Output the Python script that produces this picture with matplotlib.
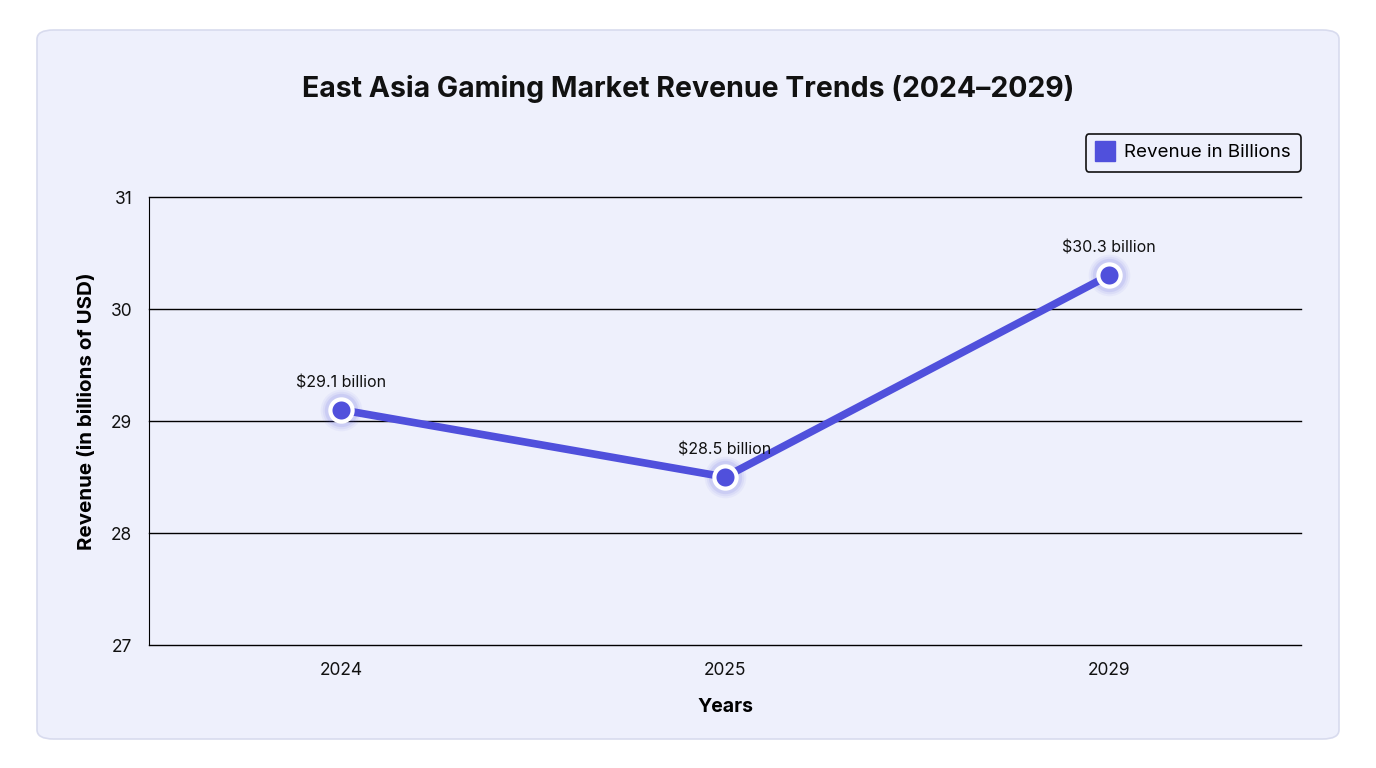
import matplotlib
matplotlib.use("Agg")
import matplotlib.pyplot as plt
from matplotlib.patches import FancyBboxPatch

plt.rcParams['font.family'] = ['Inter', 'DejaVu Sans']

years = ["2024", "2025", "2029"]
revenue = [29.1, 28.5, 30.3]
labels = ["$29.1 billion", "$28.5 billion", "$30.3 billion"]
yticks = [27, 28, 29, 30, 31]

W, H = 1376, 768
fig = plt.figure(figsize=(W / 100, H / 100), dpi=100)
fig.patch.set_facecolor("white")

panel = FancyBboxPatch((37 / W, 1 - 739 / H), (1339 - 37) / W, (739 - 30) / H,
                       boxstyle="round,pad=0,rounding_size=0.012",
                       transform=fig.transFigure, facecolor="#EEF0FC",
                       edgecolor="#D8DBEE", linewidth=1.2, zorder=-10)
fig.patches.append(panel)

ax = fig.add_axes([149 / W, 1 - 645 / H, (1301 - 149) / W, (645 - 197) / H])
ax.set_zorder(1)
ax.set_facecolor("none")
color = "#5050DC"
x = list(range(len(years)))

# soft glow
for ms, a in [(30, 0.05), (27, 0.07), (24, 0.10)]:
    ax.plot(x, revenue, linestyle="none", marker="o", markersize=ms, color=color,
            alpha=a, markeredgewidth=0, zorder=3)
ax.plot(x, revenue, color=color, linewidth=5.5, solid_capstyle="round", zorder=4)
ax.plot(x, revenue, linestyle="none", marker="o", markersize=16, markerfacecolor=color,
        markeredgecolor="white", markeredgewidth=3, zorder=5)

for xi, yi, lab in zip(x, revenue, labels):
    ax.annotate(lab, (xi, yi), xytext=(0, 14), textcoords="offset points", ha="center",
                va="bottom", fontsize=11.5, color="#111111", zorder=6)

ax.set_xlim(-0.5, len(years) - 0.5)
ax.set_ylim(27, 31)
ax.set_yticks(yticks)
ax.set_xticks(x)
ax.set_xticklabels(years)
ax.grid(axis="y", color="black", linewidth=1)
for gl in ax.get_ygridlines():
    gl.set_clip_on(False)
ax.set_axisbelow(True)
for s in ["top", "right", "bottom"]:
    ax.spines[s].set_visible(False)
ax.spines["left"].set_color("black")
ax.tick_params(axis="both", length=0, labelsize=12.5, colors="#111111")
ax.tick_params(axis="y", pad=12)
ax.tick_params(axis="x", pad=12)

ax.set_xlabel("Years", fontsize=14, fontweight="bold", labelpad=14)
ax.set_ylabel("Revenue (in billions of USD)", fontsize=14.8, fontweight="bold",
              va="center")
ax.yaxis.set_label_coords(-0.054, 0.522)

fig.text((37 + 1339) / 2 / W, 1 - 89 / H, "East Asia Gaming Market Revenue Trends (2024\u20132029)",
         ha="center", va="center", fontsize=20.5, fontweight="bold", color="#111111")

leg_handle = plt.Line2D([], [], linestyle="none", marker="s", markersize=15,
                        markerfacecolor=color, markeredgecolor=color)
leg = fig.legend([leg_handle], ["Revenue in Billions"], loc="upper right",
                 bbox_to_anchor=(1301 / W, 1 - 134 / H), fontsize=13.5, frameon=True,
                 fancybox=True, edgecolor="#111111", facecolor="#EEF0FC", framealpha=1,
                 handletextpad=0.5, borderpad=0.55, handlelength=1.0, borderaxespad=0)
leg.get_frame().set_linewidth(1.2)

fig.savefig("out.png", dpi=100, facecolor="white")
